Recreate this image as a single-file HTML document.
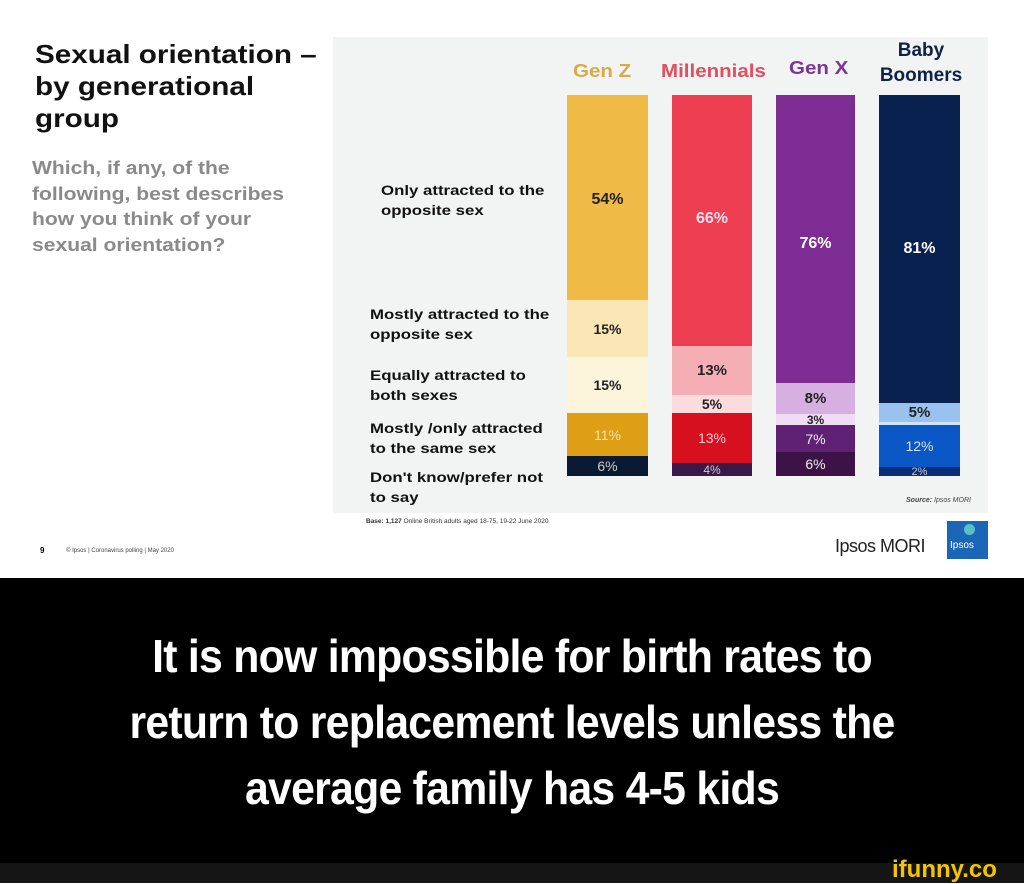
<!DOCTYPE html>
<html><head><meta charset="utf-8"><style>
*{margin:0;padding:0}
body{width:1024px;height:883px;position:relative;background:#fff;font-family:"Liberation Sans",Arial,sans-serif;overflow:hidden}
.a{position:absolute}
.b{font-weight:bold}
.w{transform:scaleX(1.14);transform-origin:left top;white-space:nowrap}
.seg{position:absolute;display:flex;align-items:center;justify-content:center;font-weight:bold;font-size:14px}
.lab{position:absolute;font-weight:bold;font-size:14px;color:#111;line-height:20px;left:370px;transform:scaleX(1.2);transform-origin:left top;white-space:nowrap}
</style></head><body>
<div class="a" style="left:333px;top:37px;width:655px;height:476px;background:#f2f3f3"></div>
<div class="a b w" style="left:35px;top:38px;font-size:26px;line-height:32px;color:#111">Sexual orientation –<br>by generational<br>group</div>
<div class="a b w" style="left:32px;top:155px;font-size:18.5px;line-height:25.5px;color:#8a8a8a">Which, if any, of the<br>following, best describes<br>how you think of your<br>sexual orientation?</div>

<div class="lab" style="left:381px;top:180px">Only attracted to the<br>opposite sex</div>
<div class="lab" style="top:304px">Mostly attracted to the<br>opposite sex</div>
<div class="lab" style="top:365px">Equally attracted to<br>both sexes</div>
<div class="lab" style="top:418px">Mostly /only attracted<br>to the same sex</div>
<div class="lab" style="top:467px">Don't know/prefer not<br>to say</div>

<div class="a b w" style="left:573px;top:61px;font-size:18px;color:#d9a94a">Gen Z</div>
<div class="a b w" style="left:661px;top:61px;font-size:18px;color:#e0505e">Millennials</div>
<div class="a b w" style="left:789px;top:58px;font-size:18px;color:#7d3596">Gen X</div>
<div class="a b" style="left:869px;top:38px;width:104px;text-align:center;font-size:19px;line-height:25px;color:#0f2246">Baby<br>Boomers</div>

<!-- Gen Z -->
<div class="seg" style="left:567px;top:95px;width:81px;height:205px;background:#efbb46;color:#222;font-size:16px"><span style="position:relative;top:2px">54%</span></div>
<div class="seg" style="left:567px;top:300px;width:81px;height:57px;background:#fbe6b6;color:#222">15%</div>
<div class="seg" style="left:567px;top:357px;width:81px;height:56px;background:#fdf4dc;color:#222">15%</div>
<div class="seg" style="left:567px;top:413px;width:81px;height:43px;background:#dc9f16;color:#f6e2a6;font-weight:normal">11%</div>
<div class="seg" style="left:567px;top:456px;width:81px;height:20px;background:#0b1a33;color:#ccc;font-weight:normal">6%</div>
<!-- Millennials -->
<div class="seg" style="left:672px;top:95px;width:80px;height:251px;background:#ee3e52;color:#fde;font-size:16px"><span style="position:relative;top:-2px">66%</span></div>
<div class="seg" style="left:672px;top:346px;width:80px;height:49px;background:#f5aeb3;color:#222;font-size:15px">13%</div>
<div class="seg" style="left:672px;top:395px;width:80px;height:18px;background:#fadcdf;color:#222">5%</div>
<div class="seg" style="left:672px;top:413px;width:80px;height:50px;background:#d6101f;color:#fcc;font-weight:normal">13%</div>
<div class="seg" style="left:672px;top:463px;width:80px;height:13px;background:#3a1848;color:#ccc;font-weight:normal;overflow:hidden;font-size:12px">4%</div>
<!-- Gen X -->
<div class="seg" style="left:776px;top:95px;width:79px;height:288px;background:#7d2c94;color:#fff;font-size:16px"><span style="position:relative;top:5px">76%</span></div>
<div class="seg" style="left:776px;top:383px;width:79px;height:31px;background:#d7b0e2;color:#222;font-size:15px">8%</div>
<div class="seg" style="left:776px;top:414px;width:79px;height:11px;background:#f0dcf4;color:#222;font-size:12px">3%</div>
<div class="seg" style="left:776px;top:425px;width:79px;height:27px;background:#5e2173;color:#eee;font-weight:normal">7%</div>
<div class="seg" style="left:776px;top:452px;width:79px;height:24px;background:#3d1347;color:#eee;font-weight:normal">6%</div>
<!-- Boomers -->
<div class="seg" style="left:879px;top:95px;width:81px;height:308px;background:#08214f;color:#fff;font-size:16px"><span style="position:relative;top:0px">81%</span></div>
<div class="seg" style="left:879px;top:403px;width:81px;height:19px;background:#99c2ef;color:#222;font-size:15px">5%</div>
<div class="a" style="left:879px;top:422px;width:81px;height:3px;background:#cfe3f7"></div>
<div class="seg" style="left:879px;top:425px;width:81px;height:42px;background:#0b57c5;color:#dde;font-weight:normal">12%</div>
<div class="seg" style="left:879px;top:467px;width:81px;height:9px;background:#0a2f78;color:#ccc;font-weight:normal;font-size:11px;overflow:hidden">2%</div>

<div class="a" style="left:906px;top:497px;font-size:7px;font-style:italic;color:#444"><b>Source:</b> Ipsos MORI</div>
<div class="a" style="left:366px;top:518px;font-size:6.5px;color:#333"><b>Base: 1,127</b> Online British adults aged 18-75, 19-22 June 2020</div>
<div class="a b" style="left:40px;top:546px;font-size:8px">9</div>
<div class="a" style="left:66px;top:548px;font-size:6px;color:#444">© Ipsos | Coronavirus polling | May 2020</div>
<div class="a" style="left:835px;top:536px;font-size:18px;color:#222;letter-spacing:-0.5px">Ipsos MORI</div>
<div class="a" style="left:947px;top:521px;width:41px;height:38px;background:#1c66b8"></div>
<div class="a" style="left:950px;top:540px;font-size:10px;color:#fff">Ipsos</div>
<div class="a" style="left:964px;top:524px;width:11px;height:11px;border-radius:50%;background:#5bc0c0"></div>

<div class="a" style="left:0;top:578px;width:1024px;height:285px;background:#000"></div>
<div class="a b" style="left:0;top:623px;width:1024px;text-align:center;color:#fff;font-size:46px;line-height:66px;letter-spacing:-0.8px;transform:scaleX(0.93)">It is now impossible for birth rates to<br>return to replacement levels unless the<br>average family has 4-5 kids</div>
<div class="a" style="left:0;top:863px;width:1024px;height:20px;background:#151515"></div>
<div class="a b" style="left:892px;top:856px;font-size:24px;color:#f5c400">ifunny.co</div>
</body></html>
